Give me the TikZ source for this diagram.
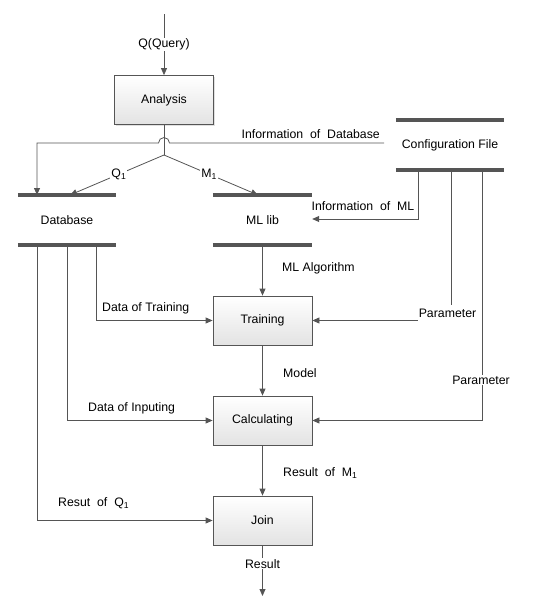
\documentclass[tikz,border=0pt]{standalone}
\usepackage{fontspec}
\setmainfont{Liberation Sans}
\usetikzlibrary{arrows.meta,shadows}
\definecolor{ln}{HTML}{555555}
\begin{document}
\begin{tikzpicture}[x=1pt,y=-1pt,
  font=\fontsize{12.3}{14}\selectfont,
  proc/.style={draw=ln, line width=0.8pt, minimum width=99pt, minimum height=49pt,
    top color=white, bottom color=gray!22, inner sep=0pt,
    drop shadow={shadow xshift=1.2pt, shadow yshift=-1.2pt, fill=gray!60, opacity=0.4}},
  storetext/.style={minimum height=50pt, inner sep=0pt},
  storeline/.style={draw=ln, line width=3.5pt},
  wire/.style={draw=ln, line width=0.8pt},
  conn/.style={wire, -{Triangle[length=7pt,width=6pt]}},
  lbl/.style={fill=white, inner sep=1pt},
  tag/.style={inner sep=0pt, anchor=west}]
\useasboundingbox (0,0) rectangle (538,608);

% process boxes
\node[proc] (ana) at (164,100) {Analysis};
\node[proc] (tr) at (262.5,320.5) {Training};
\node[proc] (calc) at (262.5,420.5) {Calculating};
\node[proc] (join) at (262.5,520.5) {Join};

% data stores
\node[storetext, minimum width=98pt] (db) at (67,220) {Database};
\node[storetext, minimum width=99pt] (ml) at (262.5,220) {ML lib};
\node[storetext, minimum width=108pt] (cf) at (450,145) {Configuration File};
\foreach \s in {db,ml,cf}{
  \draw[storeline] (\s.north west) -- (\s.north east);
  \draw[storeline] (\s.south west) -- (\s.south east);
}

% input query
\coordinate (qin) at (164,14);
\draw[conn] (qin) -- node[lbl] {Q(Query)} (ana);

% split
\coordinate (jn) at (164,155);
\coordinate (dbq) at (70,195);
\coordinate (mlm) at (258,195);
\draw[wire] (ana) -- (jn);
\draw[conn] (jn) -- node[lbl, pos=0.48] {Q\textsubscript{1}} (dbq);
\draw[conn] (jn) -- node[lbl, pos=0.48] {M\textsubscript{1}} (mlm);

% information of database (with hop-over)
\coordinate (cfi) at (384,143);
\coordinate (dbi) at (37,195);
\draw[conn] (cfi) -- (169.5,143) arc (0:-180:5.5) -- (37,143) -- (dbi);
\node[inner sep=0pt, anchor=south east] (infodb) at (380,139) {Information~ of~ Database};

% config outputs
\coordinate (cf1) at (418,170);
\coordinate (cf2) at (451,170);
\coordinate (cf3) at (482,170);
\draw[conn] (cf1) -- (418,219) -- (ml.east |- 0,219);
\node[inner sep=0pt] (infoml) at (363,206) {Information~ of~ ML};
\draw[conn] (cf2) -- (451,320.5) -- (tr.east);
\node[fill=white, inner xsep=1pt, inner ysep=3.5pt] (p1) at (447.5,313) {Parameter};
\draw[conn] (cf3) -- (482,420.5) -- (calc.east);
\node[lbl] (p2) at (481,380) {Parameter};

% main chain
\draw[conn] (ml.south) -- (tr.north);
\node[tag] (mla) at (282,268) {ML Algorithm};
\draw[conn] (tr.south) -- (calc.north);
\node[tag] (mdl) at (283,373) {Model};
\draw[conn] (calc.south) -- (join.north);
\node[tag] (rm) at (283,473) {Result~ of~ M\textsubscript{1}};
\coordinate (out) at (262.5,596);
\draw[conn] (join.south) -- node[lbl, pos=0.36] {Result} (out);

% database outputs
\coordinate (d1) at (96,245);
\coordinate (d2) at (67,245);
\coordinate (d3) at (37,245);
\draw[conn] (d1) -- (d1 |- tr.west) -- (tr.west);
\node[tag] (dt) at (102,308) {Data of Training};
\draw[conn] (d2) -- (d2 |- calc.west) -- (calc.west);
\node[tag] (di) at (88,408) {Data of Inputing};
\draw[conn] (d3) -- (d3 |- join.west) -- (join.west);
\node[tag] (rq) at (58,503) {Resut~ of~ Q\textsubscript{1}};
\end{tikzpicture}
\end{document}
